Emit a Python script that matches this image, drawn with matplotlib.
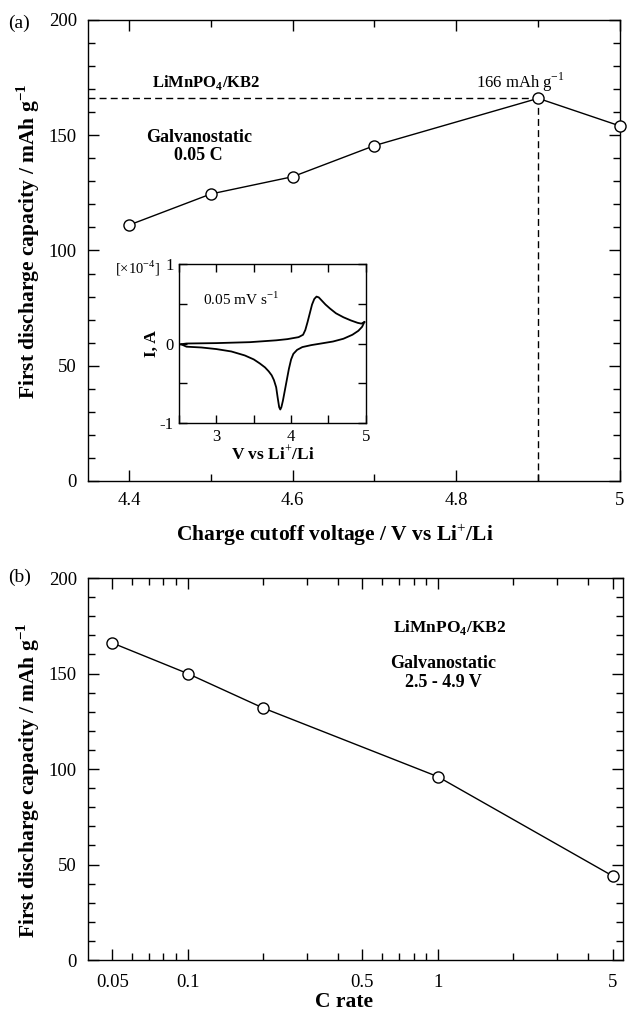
import numpy as np
import matplotlib
matplotlib.use('Agg')
import matplotlib.pyplot as plt
from matplotlib.ticker import MultipleLocator, FixedLocator, FixedFormatter

plt.rcParams['font.family'] = ['Liberation Serif', 'DejaVu Serif']
plt.rcParams['mathtext.fontset'] = 'custom'
plt.rcParams['mathtext.rm'] = 'Liberation Serif'
plt.rcParams['mathtext.bf'] = 'Liberation Serif:bold'
plt.rcParams['axes.unicode_minus'] = False

# (a) first discharge capacity vs charge cutoff voltage at 0.05 C
cutoff_v = [4.4, 4.5, 4.6, 4.7, 4.9, 5.0]
cap_a = [111, 124.5, 132, 145.5, 166, 154]
best_v = 4.9
best_cap = 166

# inset: cyclic voltammogram at 0.05 mV/s (current in 1e-4 A)
cv_ox_v = [2.52, 2.6, 3.0, 3.45, 3.8, 3.95, 4.1, 4.16, 4.19, 4.22, 4.25, 4.28, 4.31, 4.34,
           4.37, 4.41, 4.46, 4.52, 4.6, 4.7, 4.8, 4.89, 4.94, 4.98]
cv_ox_i = [-0.01, 0.0, 0.005, 0.017, 0.04, 0.055, 0.08, 0.11, 0.17, 0.27, 0.38, 0.49, 0.56, 0.59,
           0.58, 0.54, 0.49, 0.44, 0.38, 0.33, 0.29, 0.26, 0.25, 0.27]
cv_red_v = [4.98, 4.95, 4.9, 4.82, 4.7, 4.56, 4.4, 4.27, 4.15, 4.08, 4.03, 4.0, 3.97, 3.94, 3.91,
            3.89, 3.87, 3.855, 3.84, 3.82, 3.8, 3.77, 3.74, 3.7, 3.65, 3.58, 3.5, 3.38, 3.2, 3.0, 2.8, 2.6, 2.53]
cv_red_i = [0.27, 0.21, 0.16, 0.11, 0.06, 0.025, 0.0, -0.02, -0.045, -0.08, -0.13, -0.2, -0.32, -0.47, -0.62,
            -0.72, -0.8, -0.83, -0.8, -0.68, -0.55, -0.46, -0.4, -0.35, -0.3, -0.25, -0.2, -0.15, -0.1, -0.07, -0.05, -0.04, -0.01]

# (b) first discharge capacity vs C rate, 2.5-4.9 V
c_rate = [0.05, 0.1, 0.2, 1, 5]
cap_b = [166, 150, 132, 96, 44]

fig = plt.figure(figsize=(6.27, 10.13), dpi=100)

ax_a = fig.add_axes([0.1404, 0.5252, 0.8485, 0.4551])
ax_b = fig.add_axes([0.1404, 0.0523, 0.8533, 0.3771])
ax_in = fig.add_axes([0.2855, 0.5824, 0.298, 0.157])

mk = dict(color='k', lw=1.0, marker='o', ms=8, mfc='white', mec='k', mew=1.0, clip_on=False)


def style_ticks(ax, size=10, pad=8):
    ax.tick_params(which='both', direction='in', top=True, right=True, labelsize=size, width=1.0, pad=pad)
    ax.tick_params(which='major', length=8)
    ax.tick_params(which='minor', length=5)
    for s in ax.spines.values():
        s.set_linewidth(1.0)


# panel (a)
ax_a.plot([4.35, best_v], [best_cap, best_cap], 'k--', lw=1.0, dashes=(5, 3))
ax_a.plot([best_v, best_v], [0, best_cap], 'k--', lw=1.0, dashes=(5, 3))
ax_a.plot(cutoff_v, cap_a, **mk, zorder=5)
ax_a.set_xlim(4.35, 5.0)
ax_a.set_ylim(0, 200)
ax_a.xaxis.set_major_locator(FixedLocator([4.4, 4.6, 4.8, 5.0]))
ax_a.xaxis.set_major_formatter(FixedFormatter(['4.4', '4.6', '4.8', '5']))
ax_a.xaxis.set_minor_locator(MultipleLocator(0.1))
ax_a.yaxis.set_major_locator(MultipleLocator(50))
ax_a.yaxis.set_minor_locator(MultipleLocator(10))
style_ticks(ax_a, 13.5)
ax_a.set_xlabel('Charge cutoff voltage / V vs Li$^{+}$/Li', fontsize=15.5, fontweight='bold')
ax_a.xaxis.set_label_coords(0.464, -0.088)
ax_a.set_ylabel('First discharge capacity / mAh g$^{\\mathbf{-1}}$', fontsize=15.5, fontweight='bold')
ax_a.yaxis.set_label_coords(-0.087, 0.52)
ax_a.text(0.12, 0.865, 'LiMnPO$_\\mathbf{4}$/KB2', transform=ax_a.transAxes, fontsize=12, fontweight='bold', va='center')
ax_a.text(0.73, 0.865, '166 mAh g$^{-1}$', transform=ax_a.transAxes, fontsize=12, va='center')
ax_a.text(0.208, 0.726, 'Galvanostatic\n0.05 C', transform=ax_a.transAxes, fontsize=13, fontweight='bold',
          ha='center', va='center', linespacing=1.1)
fig.text(0.013, 0.977, '(a)', fontsize=14, va='center')

# inset CV
ax_in.plot(cv_ox_v, cv_ox_i, 'k-', lw=1.3)
ax_in.plot(cv_red_v, cv_red_i, 'k-', lw=1.3)
ax_in.set_xlim(2.5, 5.0)
ax_in.set_ylim(-1, 1)
ax_in.xaxis.set_major_locator(MultipleLocator(1))
ax_in.xaxis.set_minor_locator(MultipleLocator(0.5))
ax_in.yaxis.set_major_locator(MultipleLocator(1))
ax_in.yaxis.set_minor_locator(MultipleLocator(0.5))
style_ticks(ax_in, 12, pad=4)
ax_in.tick_params(which='both', length=6)
ax_in.set_xlabel('V vs Li$^{+}$/Li', fontsize=12.5, fontweight='bold', labelpad=0)
ax_in.set_ylabel('I, A', fontsize=12.5, fontweight='bold', labelpad=0)
ax_in.text(0.13, 0.74, '0.05 mV s$^{-1}$', transform=ax_in.transAxes, fontsize=11)
ax_in.text(-0.34, 0.97, '[$\\times$10$^{-4}$]', transform=ax_in.transAxes, fontsize=10.5, va='center')

# panel (b)
ax_b.plot(c_rate, cap_b, **mk)
ax_b.set_xscale('log')
ax_b.set_xlim(0.04, 5.5)
ax_b.set_ylim(0, 200)
ax_b.xaxis.set_major_locator(FixedLocator([0.05, 0.1, 0.5, 1, 5]))
ax_b.xaxis.set_major_formatter(FixedFormatter(['0.05', '0.1', '0.5', '1', '5']))
ax_b.xaxis.set_minor_locator(FixedLocator([0.06, 0.07, 0.08, 0.09, 0.2, 0.3, 0.4,
                                           0.6, 0.7, 0.8, 0.9, 2, 3, 4]))
ax_b.xaxis.set_minor_formatter(FixedFormatter([''] * 14))
ax_b.yaxis.set_major_locator(MultipleLocator(50))
ax_b.yaxis.set_minor_locator(MultipleLocator(10))
style_ticks(ax_b, 13.5, pad=10)
ax_b.tick_params(axis='y', pad=8)
ax_b.set_xlabel('C rate', fontsize=15.5, fontweight='bold')
ax_b.xaxis.set_label_coords(0.479, -0.085)
ax_b.set_ylabel('First discharge capacity / mAh g$^{\\mathbf{-1}}$', fontsize=15.5, fontweight='bold')
ax_b.yaxis.set_label_coords(-0.086, 0.47)
ax_b.text(0.57, 0.87, 'LiMnPO$_\\mathbf{4}$/KB2', transform=ax_b.transAxes, fontsize=12.5, fontweight='bold', va='center')
ax_b.text(0.664, 0.751, 'Galvanostatic\n2.5 - 4.9 V', transform=ax_b.transAxes, fontsize=13, fontweight='bold',
          ha='center', va='center', linespacing=1.1)
fig.text(0.013, 0.43, '(b)', fontsize=14, va='center')

fig.savefig('out.png', dpi=100)
